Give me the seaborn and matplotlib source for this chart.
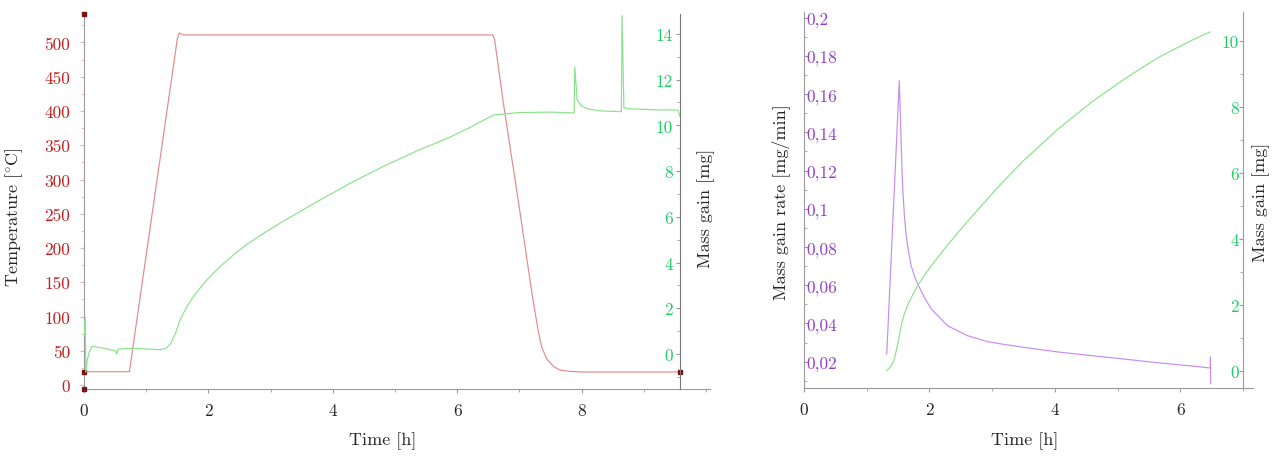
import warnings
import numpy as np
import pandas as pd
import seaborn as sns
import matplotlib
matplotlib.use("Agg")
import matplotlib.pyplot as plt
from matplotlib.ticker import MultipleLocator, FixedLocator, FuncFormatter

warnings.filterwarnings("ignore")

#### data
# left panel: temperature programme
temp_t = [0.0, 0.73, 1.50, 1.53, 1.60, 6.57, 6.60, 6.74, 7.00, 7.20, 7.30, 7.36, 7.44, 7.55, 7.65, 7.80, 8.00, 9.58]
temp_T = [19.5, 19.5, 505, 514, 511, 511, 505, 413, 258, 135, 80, 55, 38, 27, 22, 20, 19, 19]

# left panel: mass gain
mass_t = [0.0, 0.02, 0.03, 0.05, 0.08, 0.13, 0.32, 0.51, 0.525, 0.55, 0.80, 1.23, 1.32,
          1.39, 1.47, 1.55, 1.66, 1.77, 1.90, 2.04, 2.20, 2.41, 2.62, 2.84, 3.20, 3.74,
          4.28, 4.81, 5.35, 5.88, 6.20, 6.58, 7.00, 7.50, 7.88, 7.89, 7.93, 8.00, 8.10,
          8.30, 8.64, 8.65, 8.68, 8.80, 9.20, 9.55, 9.58]
mass_m = [0.8, 1.6, -0.8, -0.3, 0.07, 0.34, 0.25, 0.14, 0.0, 0.22, 0.25, 0.19, 0.25,
          0.44, 0.9, 1.53, 2.1, 2.55, 3.0, 3.43, 3.85, 4.35, 4.8, 5.2, 5.8, 6.65,
          7.47, 8.2, 8.88, 9.48, 9.9, 10.45, 10.56, 10.58, 10.54, 12.55, 11.1, 10.85, 10.72,
          10.63, 10.6, 14.8, 10.77, 10.72, 10.68, 10.67, 10.4]

# right panel: isothermal part
rate_t = [1.32, 1.52, 1.535, 1.55, 1.563, 1.578, 1.60, 1.63, 1.67, 1.71, 1.77, 1.84, 1.93,
          2.03, 2.29, 2.61, 2.93, 3.14, 3.51, 4.05, 4.58, 5.10, 5.60, 6.17, 6.48, 6.482, 6.486]
rate_v = [0.024, 0.167, 0.150, 0.1348, 0.120, 0.1086, 0.097, 0.0859, 0.077, 0.0702, 0.064,
          0.0589, 0.053, 0.0476, 0.0388, 0.0336, 0.0305, 0.0293, 0.0275, 0.0251, 0.0232,
          0.0214, 0.0196, 0.0178, 0.0167, 0.0225, 0.0083]

iso_t = [1.32, 1.39, 1.44, 1.50, 1.56, 1.60, 1.66, 1.76, 1.88, 2.03, 2.29, 2.56, 2.83,
         3.14, 3.51, 4.05, 4.58, 5.11, 5.64, 6.17, 6.48]
iso_m = [0.0, 0.14, 0.35, 0.85, 1.45, 1.72, 2.02, 2.4, 2.78, 3.18, 3.81, 4.42, 5.0,
         5.66, 6.38, 7.32, 8.13, 8.84, 9.48, 10.0, 10.27]

time_ticks_left = [0, 2, 4, 6, 8]
time_ticks_right = [0, 2, 4, 6]
temp_ticks = list(range(0, 501, 50))
mass_ticks_left = list(range(0, 15, 2))
mass_ticks_right = list(range(0, 11, 2))
rate_ticks = [0.02, 0.04, 0.06, 0.08, 0.1, 0.12, 0.14, 0.16, 0.18, 0.2]

#### colours
red_lab = '#c41e1e'
red_line = '#e38a8a'
dark_mark = '#7a1414'
green_lab = '#1fcc66'
green_line = '#8ae28a'
purple_lab = '#9040d0'
purple_line = '#c88cf0'
grey = '#9a9a9a'

sns.set_style("ticks")
plt.rcParams['font.family'] = ['cmr10', 'DejaVu Serif']
plt.rcParams['mathtext.fontset'] = 'cm'
plt.rcParams['axes.unicode_minus'] = False
fs = 12.5
lfs = 13

comma = FuncFormatter(lambda v, p: ("%g" % round(v, 4)).replace('.', ','))
plain = FuncFormatter(lambda v, p: "%g" % round(v, 4))

fig = plt.figure(figsize=(12.82, 4.6), dpi=100)


def style_x(ax, ticks):
    ax.xaxis.set_major_locator(FixedLocator(ticks))
    ax.xaxis.set_minor_locator(MultipleLocator(1))
    ax.xaxis.set_major_formatter(plain)
    ax.tick_params(axis='x', which='both', direction='out', color=grey, labelsize=fs, pad=7)
    ax.tick_params(axis='x', which='major', length=3)
    ax.tick_params(axis='x', which='minor', length=2)
    ax.spines['bottom'].set_color(grey)


######## left panel
ax1 = fig.add_axes([84 / 1282, 70 / 460, 626 / 1282, 375 / 460])
ax2 = ax1.twinx()

sns.lineplot(x=temp_t, y=temp_T, ax=ax1, color=red_line, lw=0.85, estimator=None, sort=False)
ax1.plot([temp_t[0], temp_t[-1]], [temp_T[0], temp_T[-1]], 's', color=dark_mark, ms=3.5,
         ls='none', clip_on=False, zorder=5)
sns.lineplot(x=mass_t, y=mass_m, ax=ax2, color=green_line, lw=0.85, estimator=None, sort=False)

ax1.set_xlim(0, 626 / 62.2)
ax1.set_ylim(-5.8, 541.6)
ax2.set_ylim(-1.53, 14.87)
ylo, yhi = ax1.get_ylim()
ax1.plot([0, 0], [ylo, yhi], 's', color=dark_mark, ms=3.5, clip_on=False, zorder=5)

style_x(ax1, time_ticks_left)
ax1.set_yticks(temp_ticks)
ax1.yaxis.set_minor_locator(MultipleLocator(25))
ax1.yaxis.set_major_formatter(plain)
ax1.tick_params(axis='y', which='both', direction='out', color='#e8b0b0', labelcolor=red_lab,
                labelsize=fs, pad=7)
ax1.tick_params(axis='y', which='major', length=3)
ax1.tick_params(axis='y', which='minor', length=2)
for s in ['top', 'right']:
    ax1.spines[s].set_visible(False)
ax1.spines['left'].set_color(grey)

for s in ['top', 'left', 'bottom']:
    ax2.spines[s].set_visible(False)
ax2.spines['right'].set_position(('data', temp_t[-1]))
ax2.spines['right'].set_color('#777777')
ax2.set_yticks(mass_ticks_left)
ax2.yaxis.set_minor_locator(MultipleLocator(1))
ax2.yaxis.set_major_formatter(plain)
ax2.tick_params(axis='y', which='both', direction='in', color=grey, labelcolor=green_lab,
                labelsize=fs, pad=-5)
ax2.tick_params(axis='y', which='major', length=3)
ax2.tick_params(axis='y', which='minor', length=2)
for lab in ax2.get_yticklabels():
    lab.set_horizontalalignment('right')

ax1.set_xlabel("Time [h]", fontsize=lfs)
ax1.xaxis.set_label_coords(0.4776, -0.112)
ax1.set_ylabel("Temperature [$^{\\circ}$C]", fontsize=lfs)
ax1.yaxis.set_label_coords(-0.094, 0.461)
ax2.set_ylabel("Mass gain [mg]", fontsize=lfs)
ax2.yaxis.set_label_coords(0.979, 0.485)

######## right panel
ax3 = fig.add_axes([804 / 1282, 71 / 460, 449 / 1282, 376 / 460])
ax4 = ax3.twinx()

sns.lineplot(x=rate_t, y=rate_v, ax=ax3, color=purple_line, lw=0.85, estimator=None, sort=False)
sns.lineplot(x=iso_t, y=iso_m, ax=ax4, color=green_line, lw=0.85, estimator=None, sort=False)

ax3.set_xlim(0, 449 / 62.7)
ax3.set_ylim(0.00624, 0.203)
ax4.set_ylim(-0.524, 10.87)

style_x(ax3, time_ticks_right)
ax3.set_yticks(rate_ticks)
ax3.yaxis.set_minor_locator(MultipleLocator(0.01))
ax3.yaxis.set_major_formatter(comma)
ax3.tick_params(axis='y', which='both', direction='in', color=grey, labelcolor=purple_lab,
                labelsize=fs, pad=-2)
ax3.tick_params(axis='y', which='major', length=3)
ax3.tick_params(axis='y', which='minor', length=2)
for lab in ax3.get_yticklabels():
    lab.set_horizontalalignment('left')
for s in ['top', 'right']:
    ax3.spines[s].set_visible(False)
ax3.spines['left'].set_color(grey)

for s in ['top', 'left', 'bottom']:
    ax4.spines[s].set_visible(False)
ax4.spines['right'].set_position(('data', 7.0))
ax4.spines['right'].set_color(grey)
ax4.set_yticks(mass_ticks_right)
ax4.yaxis.set_minor_locator(MultipleLocator(1))
ax4.yaxis.set_major_formatter(plain)
ax4.tick_params(axis='y', which='both', direction='in', color=grey, labelcolor=green_lab,
                labelsize=fs, pad=-3)
ax4.tick_params(axis='y', which='major', length=3)
ax4.tick_params(axis='y', which='minor', length=2)
for lab in ax4.get_yticklabels():
    lab.set_horizontalalignment('right')

ax3.set_xlabel("Time [h]", fontsize=lfs)
ax3.xaxis.set_label_coords(0.492, -0.114)
ax3.set_ylabel("Mass gain rate [mg/min]", fontsize=lfs)
ax3.yaxis.set_label_coords(-0.031, 0.497)
ax4.set_ylabel("Mass gain [mg]", fontsize=lfs)
ax4.yaxis.set_label_coords(0.998, 0.497)

fig.savefig("out.png", dpi=100)
